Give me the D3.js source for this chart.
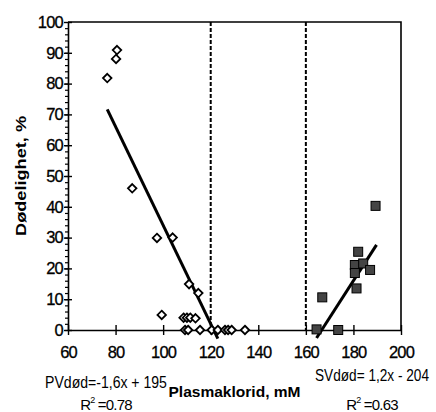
<!DOCTYPE html>
<html>
<head>
<meta charset="utf-8">
<script src="https://cdn.jsdelivr.net/npm/d3@7"></script>
<style>
  body { margin: 0; background: #fff; }
  svg { display: block; font-family: "Liberation Sans", Arial, sans-serif; }
</style>
</head>
<body>
<svg id="chart" width="436" height="412"></svg>
<script>
// values
const pvX = [76.5, 80.2, 80.6, 87, 97.4, 104, 99.4, 110.9, 114.8,
             108.6, 110, 111.4, 113.6, 109.2, 110.5, 115.5, 120.4, 123, 126, 127.3, 128.8, 134.4];
const pvY = [81.8, 88, 90.9, 46, 29.9, 30, 4.9, 14.9, 12,
             4, 4, 4, 3.8, 0, 0, 0, 0, 0, 0, 0, 0, 0];
const svX = [189.3, 182, 180.6, 180.6, 184.1, 187, 181.3, 166.9, 164.5, 173.6];
const svY = [40.3, 25.4, 21.1, 18.5, 21.6, 19.5, 13.5, 10.6, 0.2, 0];
const xTicks = [60, 80, 100, 120, 140, 160, 180, 200];
const yTicks = [0, 10, 20, 30, 40, 50, 60, 70, 80, 90, 100];
const cutoffs = [120, 160];
const pvFit = [-1.6, 194, 76.5, 123];   // slope, intercept, from, to
const svFit = [1.2, -200, 164.5, 189.7];
const pvText = ["PVdød=-1,6x + 195", "0.78"];
const svText = ["SVdød= 1,2x - 204", "0.63"];

const svg = d3.select("#chart");
const mLeft = 68, mRight = 401, mTop = 22, mBottom = 330;

const x = d3.scaleLinear().domain([60, 200]).range([mLeft, mRight]);
const y = d3.scaleLinear().domain([0, 100]).range([mBottom, mTop]);

// frame
svg.append("path")
  .attr("d", `M${mLeft},${mTop}H${mRight}V${mBottom}`)
  .attr("fill", "none").attr("stroke", "#000").attr("stroke-width", 1.6);

// y axis with minor ticks
const yMinor = d3.axisLeft(y).tickValues(d3.range(0, 100, 2)).tickSize(3).tickFormat("");
svg.append("g").attr("transform", `translate(${mLeft},0)`).call(yMinor)
  .call(g => g.select(".domain").remove())
  .selectAll("line").attr("stroke-width", 1.2);

const yAxis = d3.axisLeft(y).tickValues(yTicks).tickSizeInner(4).tickSizeOuter(0).tickPadding(4);
svg.append("g").attr("transform", `translate(${mLeft},0)`).call(yAxis)
  .call(g => g.select(".domain").attr("stroke-width", 1.6))
  .call(g => g.selectAll(".tick line").attr("x2", 4).attr("x1", -4).attr("stroke-width", 1.4))
  .call(g => g.selectAll("text")
    .attr("x", -5)
    .attr("font-size", 16.5).attr("letter-spacing", -0.8)
    .attr("stroke", "#000").attr("stroke-width", 0.3)
    .attr("font-family", "Liberation Sans, Arial, sans-serif").attr("fill", "#000"));

// x axis
const xAxis = d3.axisBottom(x).tickValues(xTicks).tickSizeOuter(0);
svg.append("g").attr("transform", `translate(0,${mBottom})`).call(xAxis)
  .call(g => g.select(".domain").attr("stroke-width", 1.6))
  .call(g => g.selectAll(".tick line").attr("y1", -5).attr("y2", 5).attr("stroke-width", 1.4))
  .call(g => g.selectAll("text")
    .attr("y", 28).attr("dy", 0)
    .attr("font-size", 16.5).attr("letter-spacing", -0.8)
    .attr("stroke", "#000").attr("stroke-width", 0.3)
    .attr("font-family", "Liberation Sans, Arial, sans-serif").attr("fill", "#000"));

// cutoff lines
svg.selectAll(".cut").data(cutoffs).join("line")
  .attr("x1", d => x(d)).attr("x2", d => x(d))
  .attr("y1", mTop).attr("y2", mBottom)
  .attr("stroke", "#000").attr("stroke-width", 2)
  .attr("stroke-dasharray", "4,2");

// trend lines
[pvFit, svFit].forEach(f => {
  const [m, b, x0, x1] = f;
  svg.append("line")
    .attr("x1", x(x0)).attr("y1", y(m * x0 + b))
    .attr("x2", x(x1)).attr("y2", y(m * x1 + b))
    .attr("stroke", "#000").attr("stroke-width", 3);
});

// PV diamonds
const diamond = d3.symbol().type(d3.symbolDiamond2).size(46);
svg.selectAll(".pv").data(pvX).join("path")
  .attr("d", diamond)
  .attr("transform", (d, i) => `translate(${x(d)},${y(pvY[i])})`)
  .attr("fill", "#fff").attr("stroke", "#000").attr("stroke-width", 1.8);

// SV squares
svg.selectAll(".sv").data(svX).join("rect")
  .attr("x", d => x(d) - 4.5)
  .attr("y", (d, i) => y(svY[i]) - 4.5)
  .attr("width", 9).attr("height", 9)
  .attr("fill", "#444").attr("stroke", "#000").attr("stroke-width", 1);

// axis titles
svg.append("text")
  .attr("transform", `translate(26,${(mTop + mBottom) / 2}) rotate(-90)`)
  .attr("text-anchor", "middle")
  .attr("font-size", 15).attr("font-weight", "bold")
  .attr("textLength", 120).attr("lengthAdjust", "spacingAndGlyphs")
  .text("Dødelighet, %");

svg.append("text")
  .attr("x", (mLeft + mRight) / 2).attr("y", 397)
  .attr("text-anchor", "middle")
  .attr("font-size", 15).attr("font-weight", "bold")
  .attr("textLength", 132).attr("lengthAdjust", "spacingAndGlyphs")
  .text("Plasmaklorid, mM");

// regression labels (squeezed horizontally like the original)
function eq(txt, cx, y1, w1, y2) {
  const t1 = svg.append("text")
    .attr("text-anchor", "middle")
    .attr("font-size", 16)
    .text(txt[0]);
  const w = t1.node().getComputedTextLength();
  t1.attr("transform", `translate(${cx},${y1}) scale(${w1 / w},1)`);
  const t = svg.append("text")
    .attr("x", cx).attr("y", y2).attr("text-anchor", "middle")
    .attr("font-size", 15).attr("letter-spacing", -0.8);
  t.append("tspan").text("R");
  t.append("tspan").attr("font-size", 9).attr("dy", -7).text("2");
  t.append("tspan").attr("dy", 7).text(" =" + txt[1]);
}
eq(pvText, 106, 388, 122, 410);
eq(svText, 372, 381, 114, 410);
</script>
</body>
</html>
